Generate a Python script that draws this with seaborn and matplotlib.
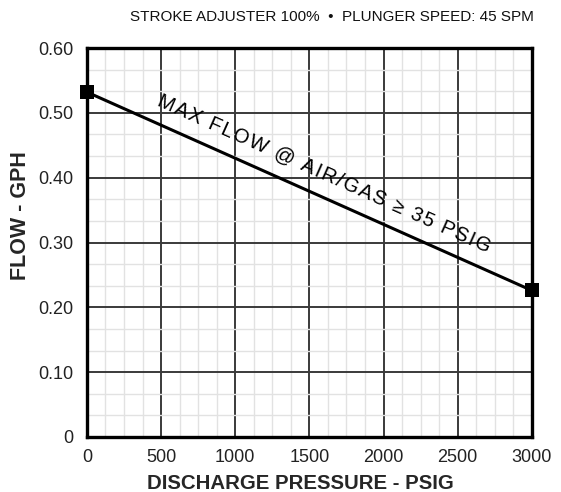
import numpy as np
import pandas as pd
import matplotlib
matplotlib.use("Agg")
import matplotlib.pyplot as plt
from matplotlib import font_manager
from matplotlib.ticker import MultipleLocator, FixedLocator
import seaborn as sns

# data
pressure = [0, 3000]
flow = [0.532, 0.226]
x_ticks = [0, 500, 1000, 1500, 2000, 2500, 3000]
y_ticks = [0.0, 0.1, 0.2, 0.3, 0.4, 0.5, 0.6]
y_labels = ["0", "0.10", "0.20", "0.30", "0.40", "0.50", "0.60"]

title = "STROKE ADJUSTER 100%  \u2022  PLUNGER SPEED: 45 SPM"
note = "MAX FLOW @ AIR/GAS \u2265 35 PSIG"

sns.set_style("white")
sans = ['Liberation Sans', 'DejaVu Sans']
plt.rcParams['font.family'] = sans

# tick labels in the original use a narrow face
try:
    font_manager.findfont('Liberation Sans Narrow', fallback_to_default=False)
    tick_font, tick_size = ['Liberation Sans Narrow'] + sans, 15
except ValueError:
    tick_font, tick_size = sans, 13

df = pd.DataFrame({"pressure": pressure, "flow": flow})

fig = plt.figure(figsize=(5.61, 4.92), dpi=100)
ax = fig.add_axes([0.155, 0.1118, 0.793, 0.7906])

sns.lineplot(data=df, x="pressure", y="flow", ax=ax, color="black", lw=2.2,
             marker="s", markersize=10, markeredgewidth=0, clip_on=False, zorder=5)

ax.set_xlim(0, 3000)
ax.set_ylim(0, 0.6)
ax.xaxis.set_major_locator(FixedLocator(x_ticks))
ax.yaxis.set_major_locator(FixedLocator(y_ticks))
ax.set_yticklabels(y_labels)
ax.xaxis.set_minor_locator(MultipleLocator(125))
ax.yaxis.set_minor_locator(MultipleLocator(0.1 / 3))
ax.grid(which="minor", color="#e2e2e2", lw=1.0)
ax.grid(which="major", color="#3a3a3a", lw=1.4)
ax.set_axisbelow(True)
ax.tick_params(which="both", length=0, colors="#222222")
ax.tick_params(axis="x", pad=9)
ax.tick_params(axis="y", pad=10)
for lab in ax.get_xticklabels() + ax.get_yticklabels():
    lab.set_family(tick_font)
    lab.set_fontsize(tick_size)

for s in ax.spines.values():
    s.set_visible(True)
    s.set_color("black")
    s.set_linewidth(2.4)

ax.set_xlabel("DISCHARGE PRESSURE - PSIG", fontsize=14.7, fontweight="bold")
ax.xaxis.set_label_coords(0.48, -0.094)
ax.set_ylabel("FLOW - GPH", fontsize=15.5, fontweight="bold")
ax.yaxis.set_label_coords(-0.125, 0.57)
fig.text(0.592, 0.965, title, ha="center", va="center", fontsize=11,
         color="#111111")

# rotate annotation to follow the line, baseline sitting just above it
p0 = ax.transData.transform((pressure[0], flow[0]))
p1 = ax.transData.transform((pressure[1], flow[1]))
angle = np.degrees(np.arctan2(p1[1] - p0[1], p1[0] - p0[0]))
spaced = "\u200a".join(note)
ax.text(1585, 0.398, spaced, rotation=angle, rotation_mode="anchor",
        ha="center", va="baseline", fontsize=14.5, color="black")

fig.savefig("out.png", dpi=100)
